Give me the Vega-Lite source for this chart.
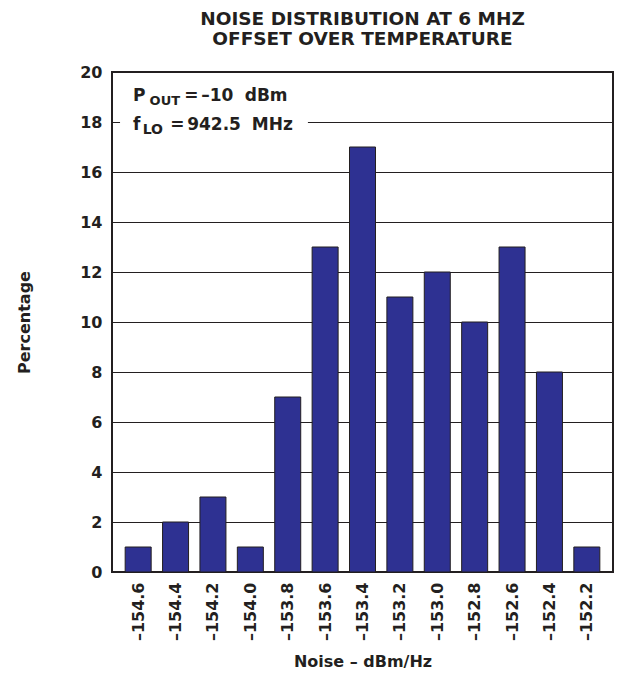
{
  "$schema": "https://vega.github.io/schema/vega-lite/v6.json",
  "width": 501,
  "height": 500,
  "autosize": {"type": "none"},
  "padding": {"left": 112, "top": 72, "right": 4, "bottom": 122},
  "background": "white",
  "config": {
    "font": "DejaVu Sans",
    "view": {"stroke": "#231F20", "strokeWidth": 2},
    "text": {"align": "left", "baseline": "alphabetic", "fontWeight": "bold", "color": "#231F20", "fontSize": 17}
  },
  "title": {
    "text": ["NOISE DISTRIBUTION AT 6 MHZ", "OFFSET OVER TEMPERATURE"],
    "font": "DejaVu Sans",
    "fontSize": 18.5,
    "fontWeight": "bold",
    "color": "#231F20",
    "anchor": "middle",
    "frame": "group",
    "offset": 16,
    "lineHeight": 20
  },
  "layer": [
    {
      "data": {"values": [
        {"noise": -154.6, "pct": 1},
        {"noise": -154.4, "pct": 2},
        {"noise": -154.2, "pct": 3},
        {"noise": -154.0, "pct": 1},
        {"noise": -153.8, "pct": 7},
        {"noise": -153.6, "pct": 13},
        {"noise": -153.4, "pct": 17},
        {"noise": -153.2, "pct": 11},
        {"noise": -153.0, "pct": 12},
        {"noise": -152.8, "pct": 10},
        {"noise": -152.6, "pct": 13},
        {"noise": -152.4, "pct": 8},
        {"noise": -152.2, "pct": 1}
      ]},
      "mark": {"type": "bar", "orient": "vertical", "size": 26, "color": "#2E3192", "stroke": "#231F20", "strokeWidth": 1},
      "encoding": {
        "x": {
          "field": "noise", "type": "quantitative",
          "scale": {"domain": [-154.74, -152.06], "nice": false, "zero": false, "padding": 0},
          "axis": {
            "title": "Noise – dBm/Hz",
            "titleFont": "DejaVu Sans", "titleFontSize": 16, "titleFontWeight": "bold", "titleColor": "#231F20",
            "titlePadding": 13,
            "values": [-154.6, -154.4, -154.2, -154.0, -153.8, -153.6, -153.4, -153.2, -153.0, -152.8, -152.6, -152.4, -152.2],
            "labelExpr": "'–' + format(abs(datum.value), '.1f')",
            "labelAngle": 270,
            "labelFont": "DejaVu Sans", "labelFontSize": 16, "labelFontWeight": "bold", "labelColor": "#231F20",
            "labelPadding": 10, "labelFlush": false, "labelOverlap": false,
            "ticks": false, "domain": false, "grid": false
          }
        },
        "y": {
          "field": "pct", "type": "quantitative",
          "scale": {"domain": [0, 20], "nice": false},
          "axis": {
            "title": "Percentage",
            "titleFont": "DejaVu Sans", "titleFontSize": 16, "titleFontWeight": "bold", "titleColor": "#231F20",
            "titlePadding": 47,
            "values": [0, 2, 4, 6, 8, 10, 12, 14, 16, 18, 20],
            "labelFont": "DejaVu Sans", "labelFontSize": 16, "labelFontWeight": "bold", "labelColor": "#231F20",
            "labelPadding": 10, "labelFlush": false,
            "ticks": false, "domain": false,
            "grid": true, "gridColor": "#231F20", "gridWidth": 1, "gridOpacity": 1
          }
        }
      }
    },
    {
      "data": {"values": [{"box": "legend"}]},
      "mark": {"type": "rect", "color": "white", "strokeWidth": 0},
      "encoding": {
        "x": {"datum": -154.697, "type": "quantitative"},
        "x2": {"datum": -153.692},
        "y": {"datum": 17.85, "type": "quantitative"},
        "y2": {"datum": 18.15}
      }
    },
    {
      "data": {"values": [{"s": "P"}]},
      "mark": {"type": "text", "fontSize": 17},
      "encoding": {
        "x": {"datum": -154.628, "type": "quantitative"},
        "y": {"datum": 18.86, "type": "quantitative"},
        "text": {"field": "s"}
      }
    },
    {
      "data": {"values": [{"s": "OUT"}]},
      "mark": {"type": "text", "fontSize": 13},
      "encoding": {
        "x": {"datum": -154.539, "type": "quantitative"},
        "y": {"datum": 18.68, "type": "quantitative"},
        "text": {"field": "s"}
      }
    },
    {
      "data": {"values": [{"s": "="}]},
      "mark": {"type": "text", "fontSize": 17},
      "encoding": {
        "x": {"datum": -154.354, "type": "quantitative"},
        "y": {"datum": 18.86, "type": "quantitative"},
        "text": {"field": "s"}
      }
    },
    {
      "data": {"values": [{"s": "–10"}]},
      "mark": {"type": "text", "fontSize": 17},
      "encoding": {
        "x": {"datum": -154.263, "type": "quantitative"},
        "y": {"datum": 18.86, "type": "quantitative"},
        "text": {"field": "s"}
      }
    },
    {
      "data": {"values": [{"s": "dBm"}]},
      "mark": {"type": "text", "fontSize": 17},
      "encoding": {
        "x": {"datum": -154.030, "type": "quantitative"},
        "y": {"datum": 18.86, "type": "quantitative"},
        "text": {"field": "s"}
      }
    },
    {
      "data": {"values": [{"s": "f"}]},
      "mark": {"type": "text", "fontSize": 17},
      "encoding": {
        "x": {"datum": -154.628, "type": "quantitative"},
        "y": {"datum": 17.68, "type": "quantitative"},
        "text": {"field": "s"}
      }
    },
    {
      "data": {"values": [{"s": "LO"}]},
      "mark": {"type": "text", "fontSize": 14},
      "encoding": {
        "x": {"datum": -154.576, "type": "quantitative"},
        "y": {"datum": 17.52, "type": "quantitative"},
        "text": {"field": "s"}
      }
    },
    {
      "data": {"values": [{"s": "="}]},
      "mark": {"type": "text", "fontSize": 17},
      "encoding": {
        "x": {"datum": -154.429, "type": "quantitative"},
        "y": {"datum": 17.68, "type": "quantitative"},
        "text": {"field": "s"}
      }
    },
    {
      "data": {"values": [{"s": "942.5"}]},
      "mark": {"type": "text", "fontSize": 17},
      "encoding": {
        "x": {"datum": -154.338, "type": "quantitative"},
        "y": {"datum": 17.68, "type": "quantitative"},
        "text": {"field": "s"}
      }
    },
    {
      "data": {"values": [{"s": "MHz"}]},
      "mark": {"type": "text", "fontSize": 17},
      "encoding": {
        "x": {"datum": -153.992, "type": "quantitative"},
        "y": {"datum": 17.68, "type": "quantitative"},
        "text": {"field": "s"}
      }
    }
  ]
}
